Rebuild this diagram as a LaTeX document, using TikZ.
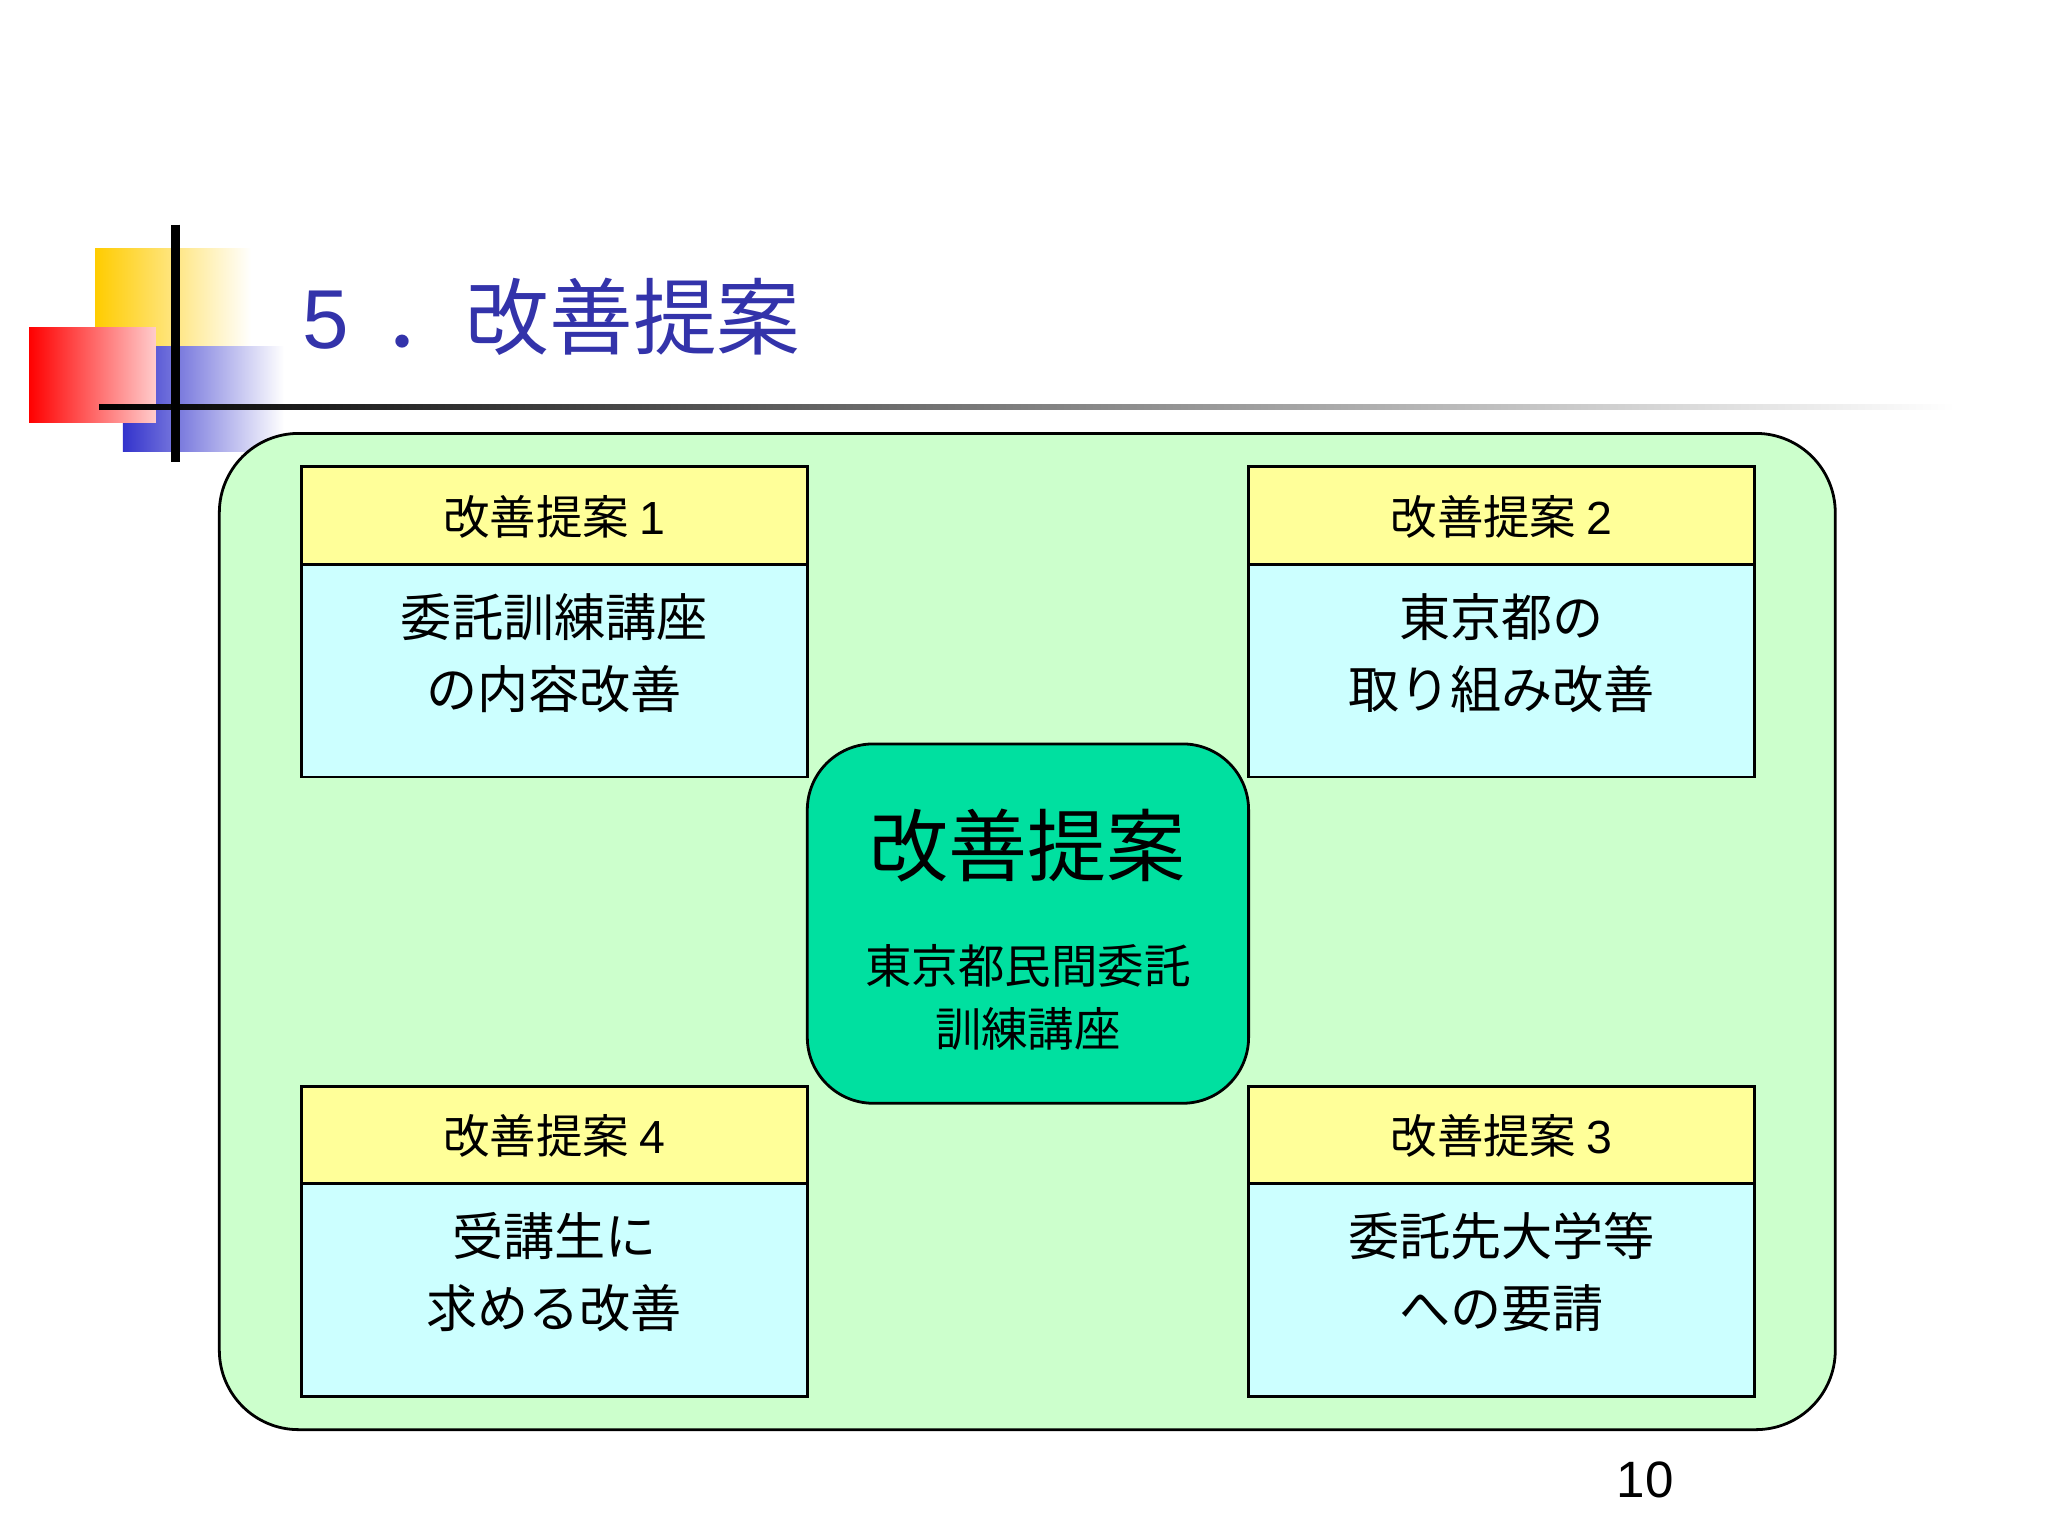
\documentclass[tikz,border=0pt]{standalone}
\usepackage{fontspec}
\setmainfont{Noto Sans CJK JP}
\setsansfont{Liberation Sans}
\begin{document}
\begin{tikzpicture}[x=0.01cm,y=-0.01cm,
  hdr/.style={draw=black,fill=hyellow,line width=0.6pt},
  bdy/.style={draw=black,fill=hcyan,line width=0.6pt},
  btxt/.style={font=\fontsize{11pt}{15.5pt}\selectfont,align=center},
  htxt/.style={font=\fontsize{10pt}{12pt}\selectfont}]
\definecolor{hyellow}{HTML}{FFFF99}
\definecolor{hcyan}{HTML}{CCFFFF}
\definecolor{hgreen}{HTML}{CCFFCC}
\definecolor{hmint}{HTML}{00E0A0}
\definecolor{tblue}{HTML}{3333AA}
\definecolor{dgold}{HTML}{FFCC00}
\definecolor{dblue}{HTML}{3333CC}
\useasboundingbox (0,0) rectangle (1550,1162.5);
% decoration
\shade[left color=dgold,right color=white] (72,188) rectangle (190,300);
\shade[left color=dblue,right color=white] (93,262) rectangle (215,342);
\shade[left color=red,right color=white!80!red] (22,248) rectangle (118,320);
\shade[left color=black,right color=white] (75,306) rectangle (1480,310);
\draw[line width=2pt] (133,170) -- (133,350);
\node[anchor=west,text=tblue,font=\fontsize{18pt}{20pt}\selectfont,inner sep=0] (title) at (228,240) {\sffamily 5\hspace{0.4em}\rmfamily ．改善提案};
% outer
\draw[fill=hgreen,rounded corners=0.6cm,line width=0.6pt] (166,328) rectangle (1389,1082);
\foreach \x/\y/\n/\h/\b in {228/353/a/改善提案 \textsf{1}/委託訓練講座\\の内容改善,945/353/b/改善提案 \textsf{2}/東京都の\\取り組み改善,228/822/d/改善提案 \textsf{4}/受講生に\\求める改善,945/822/c/改善提案 \textsf{3}/委託先大学等\\への要請}{
  \draw[hdr] (\x,\y) rectangle ++(383,74);
  \draw[bdy] (\x,\y+74) rectangle ++(383,161);
  \node[htxt] (h\n) at (\x+191.5,\y+38) {\h};
  \node[btxt] (b\n) at (\x+191.5,\y+141) {\b};
}
\draw[fill=hmint,rounded corners=0.5cm,line width=0.6pt] (611,563) rectangle (945,835);
\node[font=\fontsize{17pt}{20pt}\selectfont] (ct) at (778,640) {改善提案};
\node[font=\fontsize{10pt}{13.5pt}\selectfont,align=center] (cs) at (778,755) {東京都民間委託\\訓練講座};
\node[font=\sffamily\fontsize{11pt}{13pt}\selectfont] (pg) at (1245,1120) {10};
\end{tikzpicture}
\end{document}
